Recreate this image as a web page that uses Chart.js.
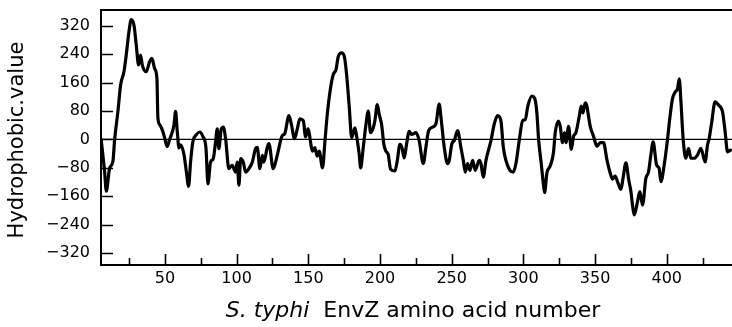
<!DOCTYPE html>
<html>
<head>
<meta charset="utf-8">
<script src="https://cdn.jsdelivr.net/npm/chart.js@4.4.1/dist/chart.umd.min.js"></script>
<style>
  body { margin: 0; background: #fff; }
  #wrap { position: relative; width: 732px; height: 327px; }
</style>
</head>
<body>
<div id="wrap">
  <canvas id="chart" width="732" height="327"></canvas>
</div>
<script>
// amino acid positions (x) and hydrophobic values (y)
const residues = [
  5.5, 7.9, 9.1, 11.4, 13.7, 14.9, 17.2, 19.1, 21.4, 23.0, 24.9, 26.5, 28.4, 30.0, 31.6, 33.0, 34.2, 36.9, 39.3, 40.9,
  42.8, 44.4, 45.1, 46.5, 48.6, 49.8, 51.6, 53.2, 56.3, 57.4, 58.6, 59.8, 60.9, 63.3, 64.9, 66.5, 67.9, 69.5, 71.8, 74.2,
  76.5, 78.6, 80.0, 81.8, 83.7, 85.3, 86.5, 87.6, 89.3, 90.7, 92.3, 94.6, 96.9, 99.3, 100.4, 101.6, 102.8, 104.6, 106.3, 108.6,
  110.9, 113.2, 114.4, 116.2, 117.9, 119.0, 121.4, 122.5, 125.5, 128.3, 131.8, 133.5, 136.5, 138.1, 140.4, 142.3, 144.1, 146.5, 148.1, 149.7,
  153.0, 154.6, 156.2, 157.6, 159.9, 161.6, 163.2, 165.5, 167.4, 169.3, 170.9, 173.2, 175.1, 176.7, 178.6, 180.2, 182.5, 183.7, 185.5, 186.5,
  188.3, 190.2, 191.8, 193.4, 195.3, 196.4, 198.1, 199.5, 201.1, 202.7, 204.1, 205.7, 207.4, 210.4, 212.0, 213.9, 215.3, 216.9, 218.5, 220.4,
  222.0, 225.1, 227.3, 230.2, 232.0, 233.9, 236.7, 239.0, 241.3, 242.5, 244.8, 247.1, 248.3, 250.1, 251.8, 254.1, 256.4, 258.1, 259.5, 261.1,
  262.7, 264.6, 266.4, 269.2, 270.4, 272.0, 273.9, 277.4, 279.7, 282.0, 284.3, 286.0, 287.8, 290.6, 293.0, 294.8, 297.1, 299.5, 301.3, 303.1,
  305.9, 307.8, 309.4, 310.6, 312.4, 314.1, 314.8, 316.4, 318.7, 321.0, 322.2, 324.5, 325.7, 327.3, 328.7, 329.7, 331.5, 333.4, 335.0, 336.6,
  339.0, 340.3, 341.5, 343.1, 344.3, 345.4, 346.6, 348.9, 351.3, 353.6, 355.9, 358.2, 360.5, 362.2, 364.0, 365.9, 368.0, 369.4, 371.5, 373.4,
  375.0, 376.1, 377.3, 379.6, 381.2, 383.1, 385.4, 387.3, 388.9, 390.5, 392.9, 394.7, 395.9, 398.2, 400.6, 402.1, 404.0, 405.9, 407.5, 408.7,
  409.9, 411.4, 413.3, 415.2, 416.8, 419.1, 421.4, 423.8, 426.8, 428.4, 429.6, 431.4, 433.7, 436.1, 438.9, 440.7, 442.4, 444.5
];
const hydrophobicity = [
  0, -90, -146, -81, -62, -1, 79, 154, 191, 238, 304, 338, 322, 266, 210, 238, 210, 191, 219, 229,
  200, 172, 60, 41, 22, 4, -20, -1, 41, 79, 22, -24, -15, -43, -90, -132, -62, -6, 13, 21,
  8, -24, -125, -64, -54, -7, 30, -26, 30, 35, 2, -82, -73, -92, -64, -129, -54, -64, -92, -82,
  -64, -26, -22, -82, -45, -64, -22, -12, -82, -45, 11, 16, 67, 44, 2, 30, 58, 53, 7, 30,
  -33, -23, -47, -33, -80, -5, 70, 145, 183, 197, 234, 244, 234, 183, 89, 5, 33, 9, -42, -80,
  -23, 42, 80, 19, 33, 52, 98, 70, 42, -14, -33, -42, -84, -89, -61, -14, -23, -52, -14, 23,
  14, 19, -3, -68, -22, 25, 35, 44, 100, 63, -22, -68, -59, -12, -3, 25, -22, -59, -92, -68,
  -87, -59, -87, -59, -68, -106, -59, -3, 44, 67, 53, -22, -59, -87, -92, -68, -3, 53, 56, 94,
  122, 117, 75, 0, -66, -131, -150, -94, -75, -37, 19, 52, 37, -9, 19, -9, 37, -28, 9, 19,
  66, 94, 75, 103, 94, 66, 37, 9, -19, -9, -9, -56, -94, -112, -103, -122, -141, -112, -66, -112,
  -147, -185, -213, -175, -147, -185, -110, -91, -44, -7, -72, -82, -119, -72, 3, 59, 115, 134, 143, 171,
  106, 3, -53, -25, -53, -53, -44, -25, -63, -16, 3, 50, 106, 97, 78, 22, -35, -30
];

const yTickValues = [-320, -240, -160, -80, 0, 80, 160, 240, 320];
const xTickValues = [50, 100, 150, 200, 250, 300, 350, 400];
const xMinorTicks = [25, 75, 125, 175, 225, 275, 325, 375, 425];

const yTitle = "Hydrophobic.value";
const xTitleItalic = "S. typhi";
const xTitleRest = "  EnvZ amino acid number";

const FONT = '"DejaVu Sans", sans-serif';

// frame, zero line, inward ticks and axis titles
const framePlugin = {
  id: "frame",
  beforeDatasetsDraw(chart) {
    const ctx = chart.ctx;
    const area = chart.chartArea;
    const y0 = chart.scales.y.getPixelForValue(0);
    ctx.save();
    ctx.strokeStyle = "#000";
    ctx.lineWidth = 1.3;
    ctx.beginPath();
    ctx.moveTo(area.left, y0);
    ctx.lineTo(area.right, y0);
    ctx.stroke();
    ctx.restore();
  },
  afterDraw(chart) {
    const ctx = chart.ctx;
    const area = chart.chartArea;
    const xs = chart.scales.x;
    const ys = chart.scales.y;
    ctx.save();
    ctx.strokeStyle = "#000";

    // top border
    ctx.lineWidth = 2;
    ctx.beginPath();
    ctx.moveTo(area.left, area.top);
    ctx.lineTo(area.right, area.top);
    ctx.stroke();

    // ticks pointing into the plot
    ctx.lineWidth = 1.6;
    ctx.beginPath();
    yTickValues.forEach(function (v) {
      const p = Math.round(ys.getPixelForValue(v)) + 0.5;
      ctx.moveTo(area.left, p);
      ctx.lineTo(area.left + 12, p);
    });
    xTickValues.forEach(function (v) {
      const p = Math.round(xs.getPixelForValue(v)) + 0.5;
      ctx.moveTo(p, area.bottom);
      ctx.lineTo(p, area.bottom - 11);
    });
    xMinorTicks.forEach(function (v) {
      const p = Math.round(xs.getPixelForValue(v)) + 0.5;
      ctx.moveTo(p, area.bottom);
      ctx.lineTo(p, area.bottom - 7);
    });
    ctx.stroke();

    // axis titles
    ctx.fillStyle = "#000";
    ctx.textBaseline = "middle";
    ctx.save();
    ctx.translate(18, 140);
    ctx.rotate(-Math.PI / 2);
    ctx.textAlign = "center";
    ctx.font = "21px " + FONT;
    ctx.fillText(yTitle, 0, 0);
    ctx.restore();

    ctx.textAlign = "left";
    ctx.font = "italic 22px " + FONT;
    const w1 = ctx.measureText(xTitleItalic).width;
    ctx.font = "22px " + FONT;
    const w2 = ctx.measureText(xTitleRest).width;
    const startX = 413 - (w1 + w2) / 2;
    ctx.font = "italic 22px " + FONT;
    ctx.fillText(xTitleItalic, startX, 311);
    ctx.font = "22px " + FONT;
    ctx.fillText(xTitleRest, startX + w1, 311);
    ctx.restore();
  }
};

const ctx = document.getElementById("chart").getContext("2d");
const chart = new Chart(ctx, {
  type: "line",
  data: {
    labels: residues,
    datasets: [
      {
        label: "Hydrophobic value",
        data: residues.map(function (r, i) { return { x: r, y: hydrophobicity[i] }; }),
        borderColor: "#000",
        borderWidth: 3.2,
        pointRadius: 0,
        cubicInterpolationMode: "monotone",
        borderJoinStyle: "round",
        borderCapStyle: "round",
        fill: false,
      },
    ],
  },
  options: {
    responsive: false,
    animation: false,
    devicePixelRatio: 1,
    layout: { padding: { top: 10, right: 0, bottom: 0, left: 0 } },
    plugins: {
      legend: { display: false },
      tooltip: { enabled: false },
    },
    scales: {
      x: {
        type: "linear",
        min: 5.4,
        max: 445.5,
        afterBuildTicks: function (scale) {
          scale.ticks = xTickValues.map(function (v) { return { value: v }; });
        },
        afterFit: function (scale) {
          scale.height = 62;
          scale.paddingLeft = 0;
          scale.paddingRight = 0;
        },
        grid: { display: false, drawTicks: false },
        border: { display: true, color: "#000", width: 2 },
        ticks: {
          padding: 4,
          color: "#000",
          font: { family: FONT, size: 16 },
          maxRotation: 0,
          autoSkip: false,
          callback: function (v) { return String(v); },
        },
      },
      y: {
        min: -354,
        max: 365,
        afterBuildTicks: function (scale) {
          scale.ticks = yTickValues.map(function (v) { return { value: v }; });
        },
        afterFit: function (scale) {
          scale.width = 101;
          scale.paddingTop = 0;
          scale.paddingBottom = 0;
        },
        grid: { display: false, drawTicks: false },
        border: { display: true, color: "#000", width: 2 },
        ticks: {
          padding: 11,
          color: "#000",
          font: { family: FONT, size: 16 },
          autoSkip: false,
          callback: function (v) { return v < 0 ? "\u2212" + Math.abs(v) : String(v); },
        },
      },
    },
  },
  plugins: [framePlugin],
});
</script>
</body>
</html>
